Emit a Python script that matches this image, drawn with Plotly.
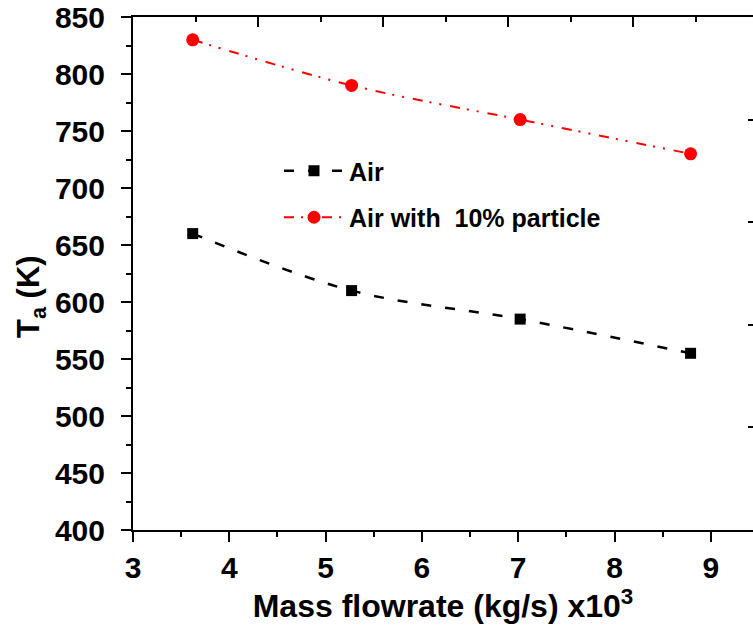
import plotly.graph_objects as go

mass_flow = [3.62, 5.27, 7.02, 8.79]
ta_air = [660, 610, 585, 555]
ta_particle = [830, 790, 760, 730]

FONT = "Liberation Sans, Arial, sans-serif"

fig = go.Figure()
fig.add_trace(go.Scatter(
    x=mass_flow, y=ta_air, name="Air", mode="lines+markers",
    line=dict(color="black", width=2.5, dash="10px,14px", shape="spline"),
    marker=dict(symbol="square", size=11, color="black"),
    legendgroup="a"))
fig.add_trace(go.Scatter(
    x=mass_flow, y=ta_particle, name="Air with  10% particle", mode="lines+markers",
    line=dict(color="#ff0000", width=2, dash="10px,7px,2px,8px,2px,9px", shape="spline"),
    marker=dict(symbol="circle", size=13, color="#ff0000"),
    legendgroup="b"))
# trace without points, only to carry the top/right frame axes
fig.add_trace(go.Scatter(x=[None], y=[None], xaxis="x2", yaxis="y2",
                         showlegend=False, hoverinfo="skip"))

tickfont = dict(family=FONT, size=30, color="black", weight="bold")

# body margin is removed in the page, so figure spans the whole 753x629 window
W, H = 753, 629
L, T, B, R = 133, 17, 629 - 530, 0
PW = 753 - 133
PH = 530 - 17

fig.update_layout(
    width=W, height=H,
    margin=dict(l=L, r=R, t=T, b=B, autoexpand=False),
    plot_bgcolor="white", paper_bgcolor="white",
    showlegend=True,
    legend=dict(x=(279 - 133) / PW, y=(530 - 148) / PH, xanchor="left", yanchor="top",
                font=dict(family=FONT, size=25, color="black", weight="bold"),
                bgcolor="rgba(0,0,0,0)", tracegroupgap=11, itemwidth=60),
    xaxis=dict(range=[3, 3 + PW / 96.3], dtick=1, tick0=3, automargin=False,
               showline=True, linecolor="black", linewidth=2,
               ticks="outside", ticklen=10, tickwidth=2, tickcolor="black",
               minor=dict(dtick=0.5, ticks="outside", ticklen=5, tickwidth=2, tickcolor="black"),
               showgrid=False, zeroline=False, tickfont=tickfont,
               ticklabeloverflow="allow",
               title=dict(text="Mass flowrate (kg/s) x10<sup>3</sup>",
                          font=dict(family=FONT, size=32, color="black", weight="bold"),
                          standoff=6)),
    yaxis=dict(range=[400, 850], dtick=50, tick0=400, automargin=False,
               showline=True, linecolor="black", linewidth=2,
               ticks="outside", ticklen=10, tickwidth=2, tickcolor="black",
               minor=dict(dtick=25, ticks="outside", ticklen=5, tickwidth=2, tickcolor="black"),
               showgrid=False, zeroline=False, tickfont=tickfont, ticklabelstandoff=10,
               ticklabeloverflow="allow"),
    xaxis2=dict(overlaying="x", side="top", anchor="y", range=[0, PW / 125], dtick=1,
                automargin=False, showline=True, linecolor="black", linewidth=2,
                ticks="inside", ticklen=10, tickwidth=2, tickcolor="black",
                minor=dict(dtick=0.5, ticks="inside", ticklen=5, tickwidth=2, tickcolor="black"),
                showticklabels=False, showgrid=False, zeroline=False),
    yaxis2=dict(overlaying="y", side="right", anchor="x", range=[0, 5], dtick=1,
                automargin=False, showline=False, ticks="inside", ticklen=5, tickwidth=2,
                tickcolor="black", showticklabels=False, showgrid=False, zeroline=False),
    annotations=[dict(text="T<sub>a</sub> (K)", xref="paper", yref="paper",
                      x=(31 - 133) / PW, y=(530 - 297) / PH, textangle=-90,
                      showarrow=False, xanchor="center", yanchor="middle",
                      font=dict(family=FONT, size=31, color="black", weight="bold"))],
)

fig.write_html("out.html",
               config={"displayModeBar": False},
               post_script="document.body.style.margin='0';document.body.style.overflow='hidden';")
